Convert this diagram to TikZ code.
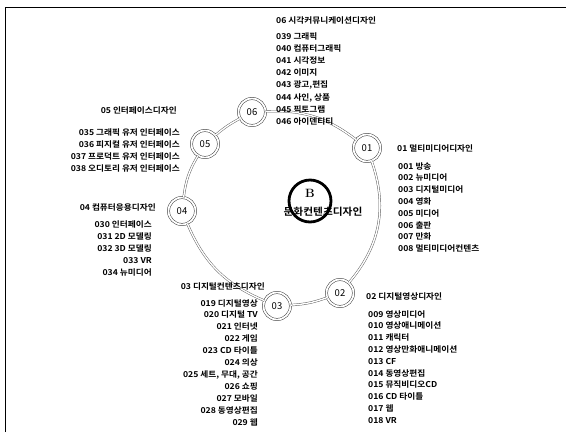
\documentclass[tikz,border=0pt]{standalone}
\usepackage{fontspec}
\newfontfamily\kr{Noto Sans CJK KR}[BoldFont={Noto Sans CJK KR Bold}, FakeStretch=1.07]
\newfontfamily\krn{Noto Sans CJK KR}
\begin{document}
\begin{tikzpicture}[x=1pt,y=-1pt,
  hub/.style={circle, draw=black!75, double=white, double distance=1.8pt, line width=0.5pt, minimum size=27pt, inner sep=0pt, font=\krn\fontsize{9.5}{10}\selectfont},
  link/.style={draw=black!65, double=white, double distance=1.4pt, line width=0.45pt},
  head/.style={font=\kr\bfseries\fontsize{8.1}{9}\selectfont, inner sep=0pt},
  items/.style={inner sep=0pt, font=\kr\bfseries\fontsize{8.1}{#1}\selectfont},
  items/.default=12]
\useasboundingbox (0,0) rectangle (573,432);
\draw[line width=0.9pt] (5,432) -- (5,7) -- (566,7);
% hubs
\node[hub] (h06) at (252,112) {06};
\node[hub] (h01) at (367,148) {01};
\node[hub] (h02) at (340,293) {02};
\node[hub] (h03) at (277,306) {03};
\node[hub] (h04) at (182,211) {04};
\node[hub] (h05) at (205,144) {05};
% links
\draw[link] (h06) to[bend left=20] (h01);
\draw[link] (h01) to[bend left=30] (h02);
\draw[link] (h02) to[bend left=8] (h03);
\draw[link] (h03) to[bend left=22] (h04);
\draw[link] (h04) to[bend left=12] (h05);
\draw[link] (h05) to[bend left=6] (h06);
% centre
\node[circle, draw, line width=2.8pt, minimum size=42pt, inner sep=0pt] (B) at (310,201) {};
\node[inner sep=0pt, font=\bfseries\large] (Bl) at (310,193) {B};
\node[inner sep=0pt, font=\kr\bfseries\fontsize{10}{10}\selectfont] (Bt) at (323,212) {문화컨텐츠디자인};
% 06
\node[head, anchor=base west] (t06) at (276,23) {06 시각커뮤니케이션디자인};
\node[items=12.2, anchor=base west, align=left] (l06) at (276,124.4) {039 그래픽\\040 컴퓨터그래픽\\041 시각정보\\042 이미지\\043 광고,편집\\044 사인, 상품\\045 픽토그램\\046 아이덴티티};
% 01
\node[head, anchor=base west] (t01) at (397,151) {01 멀티미디어디자인};
\node[items=11.8, anchor=base west, align=left] (l01) at (398,251.6) {001 방송\\002 뉴미디어\\003 디지털미디어\\004 영화\\005 미디어\\006 출판\\007 만화\\008 멀티미디어컨텐츠};
% 02
\node[head, anchor=base west] (t02) at (366,299) {02 디지털영상디자인};
\node[items=11.8, anchor=base west, align=left] (l02) at (368,423.2) {009 영상미디어\\010 영상애니메이션\\011 캐릭터\\012 영상만화애니메이션\\013 CF\\014 동영상편집\\015 뮤직비디오CD\\016 CD 타이틀\\017 웹\\018 VR};
% 03
\node[head, anchor=base east] (t03) at (265,289) {03 디지털컨텐츠디자인};
\node[items=11.9, anchor=base east, align=right] (l03) at (258,425) {019 디지털영상\\020 디지털 TV\\021 인터넷\\022 게임\\023 CD 타이틀\\024 의상\\025 세트, 무대, 공간\\026 쇼핑\\027 모바일\\028 동영상편집\\029 웹};
% 04
\node[head, anchor=base east] (t04) at (156,210) {04 컴퓨터응용디자인};
\node[items=12, anchor=base east, align=right] (l04) at (152,275) {030 인터페이스\\031 2D 모델링\\032 3D 모델링\\033 VR\\034 뉴미디어};
% 05
\node[head, anchor=base east] (t05) at (177,113) {05 인터페이스디자인};
\node[items=12.3, anchor=base east, align=right] (l05) at (180,171.9) {035 그래픽 유저 인터페이스\\036 피지컬 유저 인터페이스\\037 프로덕트 유저 인터페이스\\038 오디토리 유저 인터페이스};
\end{tikzpicture}
\end{document}
